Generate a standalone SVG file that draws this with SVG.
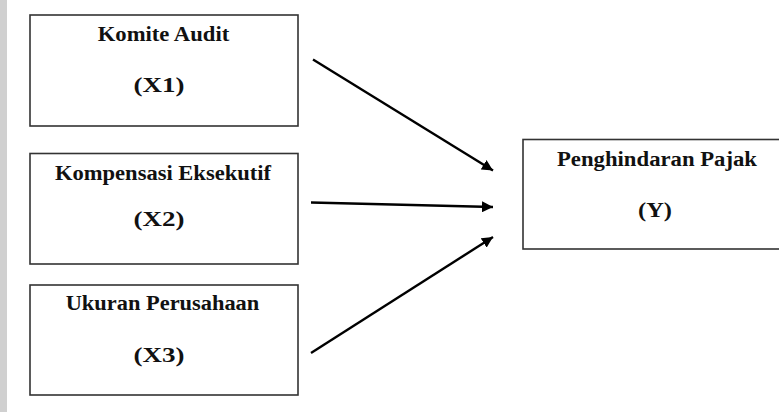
<svg xmlns="http://www.w3.org/2000/svg" width="779" height="412" viewBox="0 0 779 412">
<style>
.box{fill:#fff;stroke:#333;stroke-width:1.6}
.t{font-family:"Liberation Serif","Times New Roman",serif;font-weight:bold;font-size:20.5px;fill:#111;text-anchor:middle}
.c{stroke:#000;stroke-width:2.4;fill:none}
</style>
<defs>
<marker id="ah" viewBox="0 0 10 10" refX="10" refY="5" markerWidth="4.6" markerHeight="4.6" orient="auto" markerUnits="strokeWidth">
<path d="M0,0 L10,5 L0,10 z" fill="#000"/>
</marker>
</defs>
<rect x="0" y="0" width="779" height="412" fill="#fff"/>
<rect x="0" y="0" width="7" height="412" fill="#d0d0d0"/>
<g id="x1">
<rect class="box" x="30" y="15" width="268" height="111"/>
<text class="t" x="163.5" y="41" textLength="131.6" lengthAdjust="spacingAndGlyphs">Komite Audit</text>
<text class="t" x="159" y="92" textLength="51" lengthAdjust="spacingAndGlyphs">(X1)</text>
</g>
<g id="x2">
<rect class="box" x="30" y="153.5" width="268" height="110.5"/>
<text class="t" x="163" y="179.5" textLength="216" lengthAdjust="spacingAndGlyphs">Kompensasi Eksekutif</text>
<text class="t" x="159" y="226" textLength="51" lengthAdjust="spacingAndGlyphs">(X2)</text>
</g>
<g id="x3">
<rect class="box" x="30" y="285" width="268" height="110"/>
<text class="t" x="162.5" y="309.5" textLength="193.6" lengthAdjust="spacingAndGlyphs">Ukuran Perusahaan</text>
<text class="t" x="159" y="361.5" textLength="51" lengthAdjust="spacingAndGlyphs">(X3)</text>
</g>
<g id="y">
<rect class="box" x="523" y="139.5" width="270" height="109.5"/>
<text class="t" x="657" y="165.5" textLength="200" lengthAdjust="spacingAndGlyphs">Penghindaran Pajak</text>
<text class="t" x="655" y="216.5" textLength="34" lengthAdjust="spacingAndGlyphs">(Y)</text>
</g>
<g id="connectors">
<line class="c" x1="313" y1="59.5" x2="493" y2="170.5" marker-end="url(#ah)"/>
<line class="c" x1="311" y1="202.5" x2="493" y2="207" marker-end="url(#ah)"/>
<line class="c" x1="311" y1="353" x2="493" y2="237" marker-end="url(#ah)"/>
</g>
</svg>
